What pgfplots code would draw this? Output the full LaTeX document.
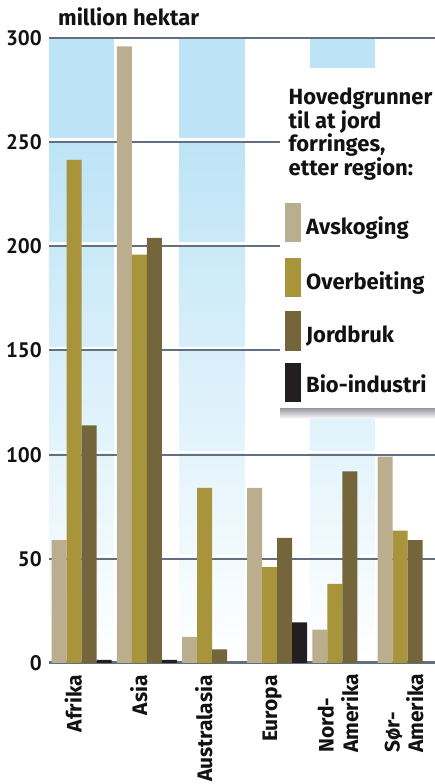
\documentclass[border=0pt]{standalone}
\usepackage{fontspec}
\setmainfont{Fira Sans}
\newfontfamily\ptsans{PT Sans}
\usepackage{pgfplots}
\pgfplotsset{compat=1.18}
\definecolor{avs}{RGB}{186,174,142}
\definecolor{ovb}{RGB}{168,148,58}
\definecolor{jor}{RGB}{116,102,58}
\definecolor{bio}{RGB}{35,31,32}
\definecolor{bgblue}{RGB}{189,228,246}
\definecolor{gridc}{RGB}{98,111,128}
\definecolor{shadowc}{RGB}{160,163,168}
\definecolor{txt}{RGB}{18,18,18}
\newcommand{\lf}{\fontsize{22}{23.3}\selectfont\bfseries}
\newcommand{\cf}{\fontsize{21}{22}\selectfont\bfseries}
\newcommand{\tf}{\ptsans\fontsize{21}{22}\selectfont\bfseries}
\begin{document}
\begin{tikzpicture}[x=1pt,y=1pt]
\begin{axis}[
  at={(49pt,121pt)}, anchor=south west,
  x=65.2pt, y=2.083333pt,
  xmin=-0.5, xmax=5.42, ymin=0, ymax=300,
  ybar=0pt, bar width=15pt,
  set layers,
  axis line style={draw=none},
  major tick length=0pt,
  xtick=\empty,
  ytick={50,100,...,300},
  extra y ticks={0},
  extra y tick style={grid style={gridc, line width=3pt}},
  ymajorgrids,
  grid style={gridc, line width=2pt},
  yticklabel style={font=\tf, text=txt, anchor=east, inner sep=0pt, xshift=-7pt},
  /pgf/number format/assume math mode=true,
]
\begin{pgfonlayer}{axis background}
  \fill[bgblue] (axis cs:-0.5,250) rectangle (axis cs:0.5,300);
  \shade[top color=bgblue, bottom color=white] (axis cs:-0.5,0) rectangle (axis cs:0.5,250);
  \fill[bgblue] (axis cs:1.5,250) rectangle (axis cs:2.5,300);
  \shade[top color=bgblue, bottom color=white] (axis cs:1.5,0) rectangle (axis cs:2.5,250);
  \fill[bgblue] (axis cs:3.5,250) rectangle (axis cs:4.5,300);
  \shade[top color=bgblue, bottom color=white] (axis cs:3.5,0) rectangle (axis cs:4.5,250);
  \draw[white, line width=2.5pt] ([yshift=2.6pt]axis cs:-0.5,50) -- ([yshift=2.6pt]axis cs:5.42,50);
  \draw[white, line width=2.5pt] ([yshift=2.6pt]axis cs:-0.5,100) -- ([yshift=2.6pt]axis cs:5.42,100);
  \draw[white, line width=2.5pt] ([yshift=2.6pt]axis cs:-0.5,150) -- ([yshift=2.6pt]axis cs:5.42,150);
  \draw[white, line width=2.5pt] ([yshift=2.6pt]axis cs:-0.5,200) -- ([yshift=2.6pt]axis cs:5.42,200);
  \draw[white, line width=2.5pt] ([yshift=2.6pt]axis cs:-0.5,250) -- ([yshift=2.6pt]axis cs:5.42,250);
\end{pgfonlayer}
% Avskoging
\addplot[fill=avs, draw=none] coordinates {(0,59) (1,296) (2,12.5) (3,84) (4,16) (5,99)};
% Overbeiting
\addplot[fill=ovb, draw=none] coordinates {(0,241.5) (1,196) (2,84) (3,46) (4,38) (5,63.5)};
% Jordbruk
\addplot[fill=jor, draw=none] coordinates {(0,114) (1,204) (2,6.5) (3,60) (4,92) (5,59)};
% Bio-industri
\addplot[fill=bio, draw=none] coordinates {(0,1.5) (1,1.5) (3,19.5)};
\end{axis}
% legend panel
\fill[white] (280,375) rectangle (440,716);
\shade[top color=shadowc, bottom color=white] (280,365) rectangle (440,375);
\node[anchor=base west, inner sep=0pt, text=txt] at (288.5,679) {\lf Hovedgrunner};
\node[anchor=base west, inner sep=0pt, text=txt] at (288.5,655.5) {\lf til at jord};
\node[anchor=base west, inner sep=0pt, text=txt] at (288.5,632) {\lf forringes,};
\node[anchor=base west, inner sep=0pt, text=txt] at (288.5,608.5) {\lf etter region:};
\fill[avs] (285,542) rectangle (301,581);
\fill[ovb] (285,487) rectangle (301,526);
\fill[jor] (285,433) rectangle (301,473);
\fill[bio] (285,382) rectangle (301,421);
\node[anchor=base west, inner sep=0pt, text=txt] at (306,549) {\lf Avskoging};
\node[anchor=base west, inner sep=0pt, text=txt] at (306,494) {\lf Overbeiting};
\node[anchor=base west, inner sep=0pt, text=txt] at (306,441) {\lf Jordbruk};
\node[anchor=base west, inner sep=0pt, text=txt] at (306,391) {\lf Bio-industri};
% unit label
\node[anchor=base west, inner sep=0pt, text=txt] at (58,758.7) {\lf million hektar};
% category labels
\node[rotate=90, anchor=base east, inner sep=0pt, text=txt] at (81.5,109) {\cf Afrika};
\node[rotate=90, anchor=base east, inner sep=0pt, text=txt] at (147,109) {\cf Asia};
\node[rotate=90, anchor=base east, inner sep=0pt, text=txt] at (212,109) {\cf Australasia};
\node[rotate=90, anchor=base east, inner sep=0pt, text=txt] at (277,109) {\cf Europa};
\node[rotate=90, anchor=base west, inner sep=0pt, text=txt] at (333.5,31) {\cf Nord-};
\node[rotate=90, anchor=base west, inner sep=0pt, text=txt] at (358,31) {\cf Amerika};
\node[rotate=90, anchor=base west, inner sep=0pt, text=txt] at (399.5,31) {\cf Sør-};
\node[rotate=90, anchor=base west, inner sep=0pt, text=txt] at (423,31) {\cf Amerika};
\pgfresetboundingbox
\useasboundingbox (0,0) rectangle (435,784);
\end{tikzpicture}
\end{document}
